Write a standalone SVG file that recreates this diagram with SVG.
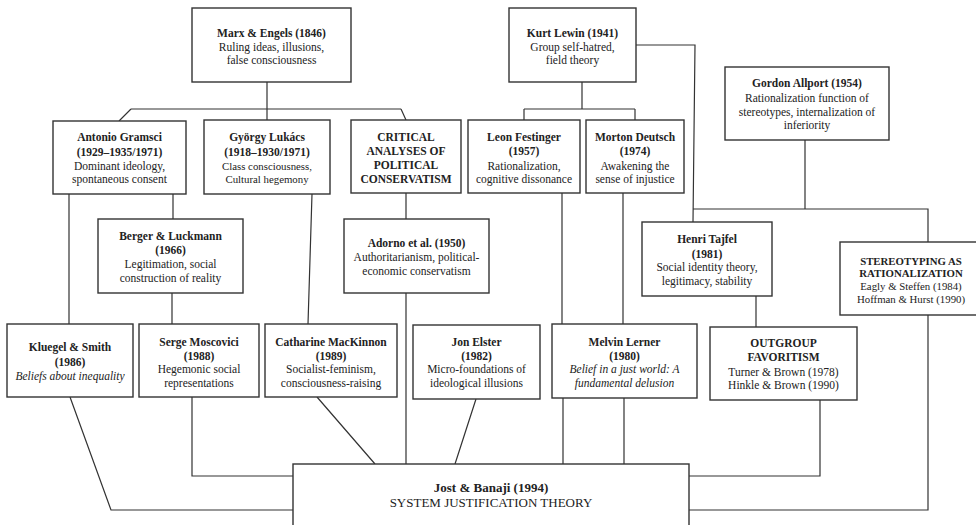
<svg xmlns="http://www.w3.org/2000/svg" width="976" height="525" viewBox="0 0 976 525">
<style>
.box{fill:#fff;stroke:#333;stroke-width:1.4}
.c{fill:none;stroke:#333;stroke-width:1.2}
text{font-family:"Liberation Serif","Times New Roman",serif;font-size:11.5px;fill:#222;text-anchor:middle}
.b{font-weight:bold}
.i{font-style:italic}
.s{font-size:10.8px}
.j{font-size:13px}
</style>
<rect width="976" height="525" fill="#fff"/>
<g id="connectors">
<path class="c" d="M267,82V109M131,109H401M131,109L119,121M401,109L406,120M267,109V120"/>
<path class="c" d="M582,82V109M524,109H635M524,109V120M635,109V120M636,45H695L693,222"/>
<path class="c" d="M805,140V209M693,209H928V242"/>
<path class="c" d="M69,194V324M173,194V219M172,293V324M312,194L308,324M406,193V219M406,293V464"/>
<path class="c" d="M562,193V324M563,398V464M623,193V324M624,398V464M756,296V327"/>
<path class="c" d="M70,397L111,510H293M192,397V476H293M317,397L375,464M476,399L455,464"/>
<path class="c" d="M820,400V476H689M928,315V510H689"/>
</g>
<g id="marx"><rect class="box" x="192" y="8" width="159" height="74"/>
<text x="271.5" y="37" class="b">Marx &amp; Engels (1846)</text><text x="271.5" y="51">Ruling ideas, illusions,</text><text x="271.5" y="64">false consciousness</text></g>
<g id="lewin"><rect class="box" x="509" y="8" width="127" height="74"/>
<text x="572.5" y="37" class="b">Kurt Lewin (1941)</text><text x="572.5" y="51">Group self-hatred,</text><text x="572.5" y="64">field theory</text></g>
<g id="gramsci"><rect class="box" x="53" y="121" width="133" height="73"/>
<text x="119.5" y="141" class="b">Antonio Gramsci</text><text x="119.5" y="156" class="b">(1929–1935/1971)</text><text x="119.5" y="170">Dominant ideology,</text><text x="119.5" y="183">spontaneous consent</text></g>
<g id="lukacs"><rect class="box" x="204" y="120" width="126" height="74"/>
<text x="267" y="141" class="b">György Lukács</text><text x="267" y="156" class="b">(1918–1930/1971)</text><text x="267" y="170" class="s">Class consciousness,</text><text x="267" y="183" class="s">Cultural hegemony</text></g>
<g id="critical"><rect class="box" x="351" y="120" width="110" height="73"/>
<text x="406" y="141" class="b">CRITICAL</text><text x="406" y="155" class="b">ANALYSES OF</text><text x="406" y="169" class="b">POLITICAL</text><text x="406" y="183" class="b">CONSERVATISM</text></g>
<g id="festinger"><rect class="box" x="468" y="120" width="112" height="73"/>
<text x="524" y="141" class="b">Leon Festinger</text><text x="524" y="155" class="b">(1957)</text><text x="524" y="170">Rationalization,</text><text x="524" y="183">cognitive dissonance</text></g>
<g id="deutsch"><rect class="box" x="586" y="120" width="98" height="73"/>
<text x="635" y="141" class="b">Morton Deutsch</text><text x="635" y="155" class="b">(1974)</text><text x="635" y="170">Awakening the</text><text x="635" y="183">sense of injustice</text></g>
<g id="allport"><rect class="box" x="725" y="67" width="164" height="73"/>
<text x="807" y="87" class="b">Gordon Allport (1954)</text><text x="807" y="102">Rationalization function of</text><text x="807" y="116">stereotypes, internalization of</text><text x="807" y="129">inferiority</text></g>
<g id="berger"><rect class="box" x="98" y="219" width="145" height="74"/>
<text x="170.5" y="240" class="b">Berger &amp; Luckmann</text><text x="170.5" y="254" class="b">(1966)</text><text x="170.5" y="268">Legitimation, social</text><text x="170.5" y="282">construction of reality</text></g>
<g id="adorno"><rect class="box" x="344" y="219" width="145" height="74"/>
<text x="416.5" y="247" class="b">Adorno et al. (1950)</text><text x="416.5" y="261">Authoritarianism, political-</text><text x="416.5" y="275">economic conservatism</text></g>
<g id="tajfel"><rect class="box" x="642" y="222" width="130" height="74"/>
<text x="707" y="243" class="b">Henri Tajfel</text><text x="707" y="258" class="b">(1981)</text><text x="707" y="271">Social identity theory,</text><text x="707" y="285">legitimacy, stability</text></g>
<g id="stereotyping"><rect class="box" x="840" y="242" width="142" height="73"/>
<text x="911" y="265" class="b s">STEREOTYPING AS</text><text x="911" y="277" class="b s">RATIONALIZATION</text><text x="911" y="290" class="s">Eagly &amp; Steffen (1984)</text><text x="911" y="303" class="s">Hoffman &amp; Hurst (1990)</text></g>
<g id="kluegel"><rect class="box" x="7" y="324" width="126" height="73"/>
<text x="70" y="351" class="b">Kluegel &amp; Smith</text><text x="70" y="366" class="b">(1986)</text><text x="70" y="380" class="i">Beliefs about inequality</text></g>
<g id="moscovici"><rect class="box" x="139" y="324" width="120" height="73"/>
<text x="199" y="346" class="b">Serge Moscovici</text><text x="199" y="360" class="b">(1988)</text><text x="199" y="373">Hegemonic social</text><text x="199" y="387">representations</text></g>
<g id="mackinnon"><rect class="box" x="265" y="324" width="132" height="73"/>
<text x="331" y="346" class="b">Catharine MacKinnon</text><text x="331" y="360" class="b">(1989)</text><text x="331" y="373">Socialist-feminism,</text><text x="331" y="387">consciousness-raising</text></g>
<g id="elster"><rect class="box" x="413" y="325" width="127" height="74"/>
<text x="476.5" y="346" class="b">Jon Elster</text><text x="476.5" y="360" class="b">(1982)</text><text x="476.5" y="373">Micro-foundations of</text><text x="476.5" y="387">ideological illusions</text></g>
<g id="lerner"><rect class="box" x="552" y="324" width="145" height="74"/>
<text x="624.5" y="346" class="b">Melvin Lerner</text><text x="624.5" y="360" class="b">(1980)</text><text x="624.5" y="373" class="i">Belief in a just world: A</text><text x="624.5" y="387" class="i">fundamental delusion</text></g>
<g id="outgroup"><rect class="box" x="710" y="327" width="147" height="73"/>
<text x="783.5" y="347" class="b">OUTGROUP</text><text x="783.5" y="361" class="b">FAVORITISM</text><text x="783.5" y="376">Turner &amp; Brown (1978)</text><text x="783.5" y="389">Hinkle &amp; Brown (1990)</text></g>
<g id="jost"><rect class="box" x="293" y="464" width="396" height="70"/>
<text x="491" y="492" class="b j">Jost &amp; Banaji (1994)</text><text x="491" y="507" class="j">SYSTEM JUSTIFICATION THEORY</text></g>
</svg>
